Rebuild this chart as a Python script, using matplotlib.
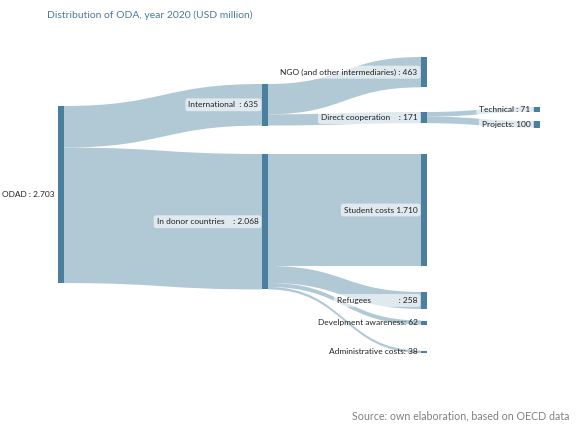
import matplotlib
matplotlib.use("Agg")
import matplotlib.pyplot as plt
from matplotlib.path import Path
from matplotlib.patches import PathPatch, Rectangle

plt.rcParams['font.family'] = ['Lato', 'DejaVu Sans']

# ---- data ----
node_names = ["ODAD", "International", "In donor countries",
              "NGO (and other intermediaries)", "Direct cooperation",
              "Technical", "Projects", "Student costs", "Refugees",
              "Develpment awareness", "Administrative costs"]
node_values = [2703, 635, 2068, 463, 171, 71, 100, 1710, 258, 62, 38]
node_labels = ["ODAD : 2.703", "International  : 635", "In donor countries    : 2.068",
               "NGO (and other intermediaries) : 463", "Direct cooperation    : 171",
               "Technical : 71", "Projects: 100", "Student costs 1.710",
               "Refugees             : 258", "Develpment awareness: 62",
               "Administrative costs: 38"]
link_source = [0, 0, 1, 1, 4, 4, 2, 2, 2, 2]
link_target = [1, 2, 3, 4, 5, 6, 7, 8, 9, 10]
link_value = [635, 2068, 463, 171, 71, 100, 1710, 258, 62, 38]

title = "Distribution of ODA, year 2020 (USD million)"
source_note = "Source: own elaboration, based on OECD data"

# ---- layout (pixels) ----
scale = 0.0655           # px per USD million
node_w = 6
node_x = [58, 262, 262, 421, 421, 534, 534, 421, 421, 421, 421]
node_top = [106, 84, 154, 57, 112, 107, 121, 154, 292, 320.5, 350.5]
label_boxed = [False, True, True, True, True, True, True, True, True, False, False]

node_color = "#4a7f9f"
link_color = "#a9c3d1"

fig = plt.figure(figsize=(5.83, 4.29), dpi=100)
ax = fig.add_axes([0, 0, 1, 1])
ax.set_xlim(0, 583)
ax.set_ylim(429, 0)
ax.axis("off")

out_off = [0.0] * len(node_values)
in_off = [0.0] * len(node_values)
for s, t, v in zip(link_source, link_target, link_value):
    h = v * scale
    x0 = node_x[s] + node_w
    x1 = node_x[t]
    y0 = node_top[s] + out_off[s]
    y1 = node_top[t] + in_off[t]
    out_off[s] += h
    in_off[t] += h
    xm = (x0 + x1) / 2
    verts = [(x0, y0), (xm, y0), (xm, y1), (x1, y1),
             (x1, y1 + h),
             (xm, y1 + h), (xm, y0 + h), (x0, y0 + h),
             (x0, y0)]
    codes = [Path.MOVETO, Path.CURVE4, Path.CURVE4, Path.CURVE4,
             Path.LINETO,
             Path.CURVE4, Path.CURVE4, Path.CURVE4,
             Path.CLOSEPOLY]
    ax.add_patch(PathPatch(Path(verts, codes), fc=link_color, ec="none",
                           alpha=0.9, zorder=1))

for i, v in enumerate(node_values):
    h = v * scale
    ax.add_patch(Rectangle((node_x[i], node_top[i]), node_w, h,
                           fc=node_color, ec="none", zorder=3))
    yc = node_top[i] + h / 2
    kw = dict(ha="right", va="center", fontsize=6.0, color="#222222", zorder=4)
    if label_boxed[i]:
        kw["bbox"] = dict(boxstyle="round,pad=0.35,rounding_size=0.3",
                          fc="#ffffff", ec="none", alpha=0.6)
    ax.text(node_x[i] - 3.5, yc, node_labels[i], **kw)

ax.text(47, 15, title, ha="left", va="center", fontsize=7.5, color="#4a7a99")
ax.text(569, 416, source_note, ha="right", va="center", fontsize=7.7, color="#808080")

fig.savefig("out.png", dpi=100)
